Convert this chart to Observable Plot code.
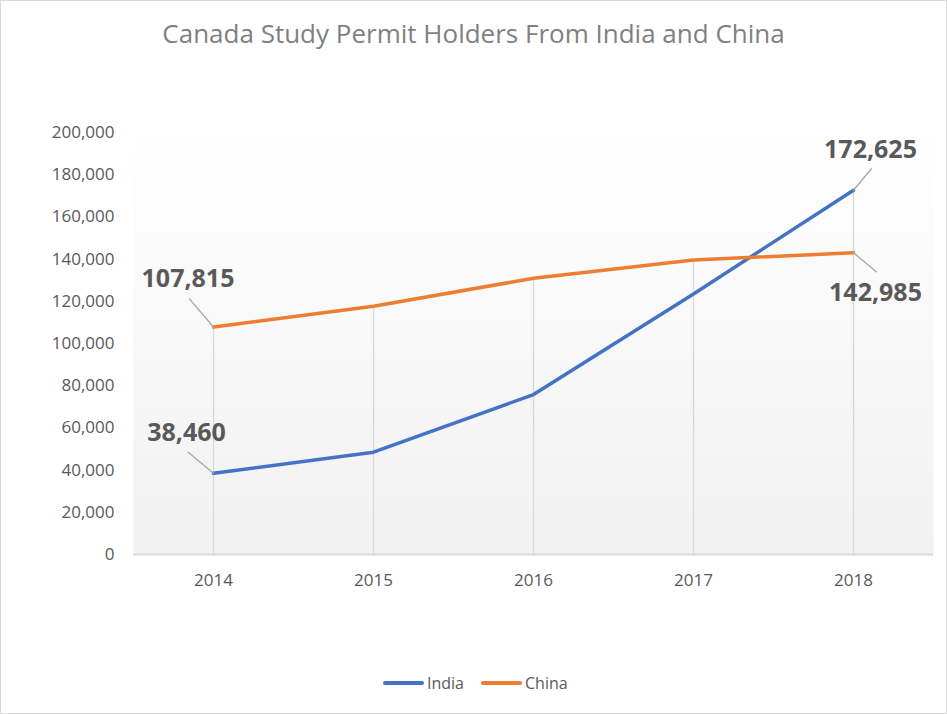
<!DOCTYPE html>
<html>
<head>
<meta charset="utf-8">
<script src="https://cdn.jsdelivr.net/npm/d3@7"></script>
<script src="https://cdn.jsdelivr.net/npm/@observablehq/plot@0.6"></script>
<style>
  body { margin: 0; background: #fff; font-family: "Open Sans", sans-serif; }
  #wrap { position: relative; width: 947px; height: 714px; overflow: hidden; background: #fff; }
  #border { position: absolute; inset: 0; border: 1px solid #d9d9d9; pointer-events: none; }
  #title { position: absolute; top: 20px; left: 0; width: 947px; text-align: center; font-size: 26px; line-height: 26px; color: #7f7f7f; }
  #chart { position: absolute; top: 0; left: 0; }
  #legend { position: absolute; top: 672px; left: 383px; display: flex; align-items: center; font-size: 16px; line-height: 22px; color: #595959; }
  .sw { display: inline-block; width: 41px; height: 4px; margin-right: 3px; border-radius: 2px; }
  .item { display: flex; align-items: center; margin-right: 17px; }
</style>
</head>
<body>
<div id="wrap">
  <div id="chart"></div>
  <div id="title">Canada Study Permit Holders From India and China</div>
  <div id="legend"></div>
  <div id="border"></div>
</div>
<script>
const years = [2014, 2015, 2016, 2017, 2018];
const india = [38460, 48500, 75800, 123500, 172625];
const china = [107815, 117700, 130900, 139600, 142985];
const seriesNames = ["India", "China"];
const seriesColors = ["#4472C4", "#ED7D31"];
const yTicks = [0, 20000, 40000, 60000, 80000, 100000, 120000, 140000, 160000, 180000, 200000];

const rows = [];
years.forEach((yr, i) => {
  rows.push({year: yr, value: india[i], series: "India"});
  rows.push({year: yr, value: china[i], series: "China"});
});
const drops = years.map((yr, i) => ({year: yr, top: Math.max(india[i], china[i])}));
const fmt = d3.format(",");

const first = 0, last = years.length - 1;
const pt = (arr, i) => [{year: years[i], value: arr[i]}];

const labelText = (data, dx, dy) => Plot.text(data, {
  x: "year", y: "value", text: d => fmt(d.value), dx, dy,
  fontSize: 25, fontWeight: "bold", fill: "#595959", fontFamily: "Open Sans"
});
const leaderShape = { draw(ctx, l) { ctx.moveTo(0, 0); ctx.lineTo(0, -l); } };
const leader = (data, length, rotate) => Plot.vector(data, {
  x: "year", y: "value", length, rotate, anchor: "start", shape: leaderShape,
  stroke: "#a6a6a6", strokeWidth: 1.3
});

const chart = Plot.plot({
  width: 947,
  height: 714,
  marginTop: 132,
  marginBottom: 160,
  marginLeft: 133,
  marginRight: 14,
  style: { fontFamily: "Open Sans", fontSize: "17px", color: "#595959", background: "transparent" },
  x: { type: "point", domain: years, padding: 0.5, label: null, tickSize: 0, tickPadding: 19, tickFormat: d => String(d) },
  y: { domain: [0, 200000], ticks: yTicks, tickFormat: fmt, label: null, tickSize: 0, tickPadding: 19 },
  color: { domain: seriesNames, range: seriesColors },
  marks: [
    Plot.frame({ fill: "url(#bgGrad)", stroke: "none" }),
    Plot.ruleX(drops, { x: "year", y1: 0, y2: "top", stroke: "#d9d9d9", strokeWidth: 1.3 }),
    Plot.ruleY([0], { stroke: "#d9d9d9", strokeWidth: 2 }),
    Plot.line(rows, { x: "year", y: "value", z: "series", stroke: "series", strokeWidth: 3.5, strokeLinejoin: "round", strokeLinecap: "round" }),
    leader(pt(china, first), 37, -40.6),
    leader(pt(india, first), 33, -50),
    leader(pt(india, last), 28, 39.7),
    leader(pt(china, last), 30, 129.6),
    labelText(pt(china, first), -25.5, -48.5),
    labelText(pt(india, first), -27, -40),
    labelText(pt(india, last), 17, -40),
    labelText(pt(china, last), 22, 40.5)
  ]
});

const svg = d3.select(chart);
const defs = svg.insert("defs", ":first-child");
const g = defs.append("linearGradient").attr("id", "bgGrad").attr("x1", 0).attr("y1", 0).attr("x2", 0).attr("y2", 1);
g.append("stop").attr("offset", "0%").attr("stop-color", "#ffffff");
g.append("stop").attr("offset", "100%").attr("stop-color", "#f1f1f1");
document.getElementById("chart").appendChild(chart);

const legend = d3.select("#legend");
seriesNames.forEach((name, i) => {
  const it = legend.append("div").attr("class", "item");
  it.append("span").attr("class", "sw").style("background", seriesColors[i]);
  it.append("span").text(name);
});
</script>
</body>
</html>
